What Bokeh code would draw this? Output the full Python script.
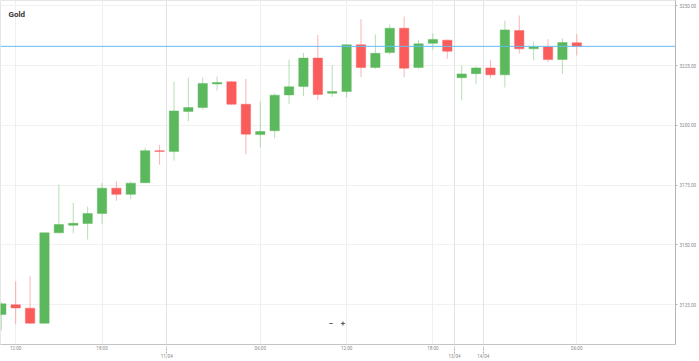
from bokeh.plotting import figure
from bokeh.models import (Range1d, FixedTicker, LinearAxis, Grid, Label,
                          ColumnDataSource, PrintfTickFormatter, Span)
from bokeh.embed import file_html
from bokeh.resources import INLINE

title = "Gold"

# candle timestamps (date, hour)
dates = (["10/04"] * 12 + ["11/04"] * 20 + ["13/04"] * 2 + ["14/04"] * 7)
hours = ["11:00", "12:00", "13:00", "14:00", "15:00", "16:00", "17:00", "18:00",
         "19:00", "20:00", "21:00", "23:00",
         "00:00", "01:00", "02:00", "03:00", "04:00", "05:00", "06:00", "07:00",
         "08:00", "09:00", "10:00", "11:00", "12:00", "13:00", "14:00", "15:00",
         "16:00", "17:00", "18:00", "19:00",
         "22:00", "23:00",
         "00:00", "01:00", "02:00", "03:00", "04:00", "05:00", "06:00"]

opens = [3120.8, 3124.9, 3123.5, 3117.2, 3155.0, 3158.2, 3158.9, 3163.1, 3173.7, 3171.1,
         3176.0, 3189.4, 3189.0, 3205.8, 3207.4, 3217.3, 3218.2, 3208.8, 3196.1, 3197.7,
         3212.7, 3216.2, 3228.1, 3213.4, 3214.1, 3233.7, 3224.2, 3230.4, 3240.6, 3224.2,
         3234.3, 3235.6, 3219.9, 3221.6, 3224.0, 3221.1, 3239.6, 3232.0, 3232.7, 3227.5,
         3234.5]
highs = [3126.0, 3134.7, 3137.0, 3155.2, 3175.2, 3167.6, 3166.0, 3175.9, 3176.6, 3176.5,
         3190.6, 3191.8, 3218.3, 3219.9, 3220.0, 3220.4, 3218.4, 3219.4, 3209.9, 3213.3,
         3227.5, 3230.3, 3237.8, 3225.0, 3233.8, 3244.4, 3238.0, 3242.2, 3245.5, 3235.7,
         3238.4, 3235.9, 3224.9, 3224.7, 3227.4, 3243.8, 3245.9, 3235.0, 3236.0, 3236.3,
         3238.1]
lows = [3114.1, 3116.9, 3116.9, 3117.0, 3155.0, 3154.8, 3152.2, 3158.8, 3168.4, 3169.1,
        3175.8, 3183.5, 3185.2, 3201.6, 3206.5, 3214.5, 3208.6, 3187.8, 3190.7, 3194.6,
        3208.8, 3212.2, 3210.5, 3211.9, 3211.6, 3220.1, 3223.6, 3229.7, 3220.1, 3223.6,
        3231.6, 3227.8, 3210.4, 3217.2, 3219.7, 3215.8, 3229.9, 3227.1, 3226.4, 3221.5,
        3229.2]
closes = [3125.3, 3123.6, 3117.2, 3155.0, 3158.5, 3159.0, 3163.1, 3173.7, 3171.1, 3175.8,
          3189.4, 3189.0, 3206.0, 3207.4, 3217.5, 3217.9, 3208.8, 3196.3, 3197.4, 3212.6,
          3216.1, 3228.1, 3212.9, 3214.1, 3233.7, 3224.2, 3230.1, 3240.6, 3223.9, 3234.1,
          3235.9, 3231.0, 3221.5, 3224.0, 3221.1, 3239.9, 3232.0, 3232.7, 3227.5, 3234.6,
          3233.02]

last_price = 3233.02
y_ticks = [3125, 3150, 3175, 3200, 3225, 3250]
time_label_hours = ["06:00", "12:00", "18:00"]

GREEN = "#5cb85c"
RED = "#fa5c5c"
FONT = "Roboto"

idx = list(range(len(opens)))
colors = [GREEN if c >= o else RED for o, c in zip(opens, closes)]
src = ColumnDataSource(dict(
    x=idx, high=highs, low=lows,
    top=[max(o, c) for o, c in zip(opens, closes)],
    bottom=[min(o, c) for o, c in zip(opens, closes)],
    color=colors))

# tick positions derived from timestamps
time_ticks, time_labels, date_ticks, date_labels = [], [], [], []
prev = dates[0]
for i, (d, h) in enumerate(zip(dates, hours)):
    if d != prev:
        date_ticks.append(i - 0.5)
        date_labels.append(d)
        prev = d
    if h in time_label_hours:
        time_ticks.append(i)
        time_labels.append(h)

p = figure(width=699, height=361,
           x_range=Range1d(-0.056, 46.86), y_range=Range1d(3108.3, 3252.2),
           y_axis_location="right", output_backend="svg", toolbar_location=None,
           min_border_left=0, min_border_top=0, min_border_right=23, min_border_bottom=17)
p.background_fill_color = "white"
p.border_fill_color = "white"
p.outline_line_color = "#e6e6e6"

# right axis
ya = p.yaxis[0]
ya.ticker = FixedTicker(ticks=y_ticks)
ya.formatter = PrintfTickFormatter(format="%.2f")
ya.major_label_text_font_size = "4.6px"
ya.major_label_text_color = "#8a8a8a"
ya.major_label_text_font = FONT
ya.major_tick_out = 2
ya.major_tick_in = 0
ya.minor_tick_out = 0
ya.minor_tick_in = 0
ya.major_label_standoff = 2
ya.axis_line_color = "#b5b5b5"
ya.major_tick_line_color = "#b5b5b5"

# bottom time axis
xa = p.xaxis[0]
xa.ticker = FixedTicker(ticks=time_ticks)
xa.major_label_overrides = {t: l for t, l in zip(time_ticks, time_labels)}
xa.major_label_text_font_size = "4.6px"
xa.major_label_text_color = "#8a8a8a"
xa.major_label_text_font = FONT
xa.major_tick_out = 0
xa.major_tick_in = 0
xa.minor_tick_out = 0
xa.minor_tick_in = 0
xa.major_label_standoff = 1
xa.axis_line_color = "#c4c4c4"

# bottom date axis
da = LinearAxis(ticker=FixedTicker(ticks=date_ticks),
                major_label_overrides={t: l for t, l in zip(date_ticks, date_labels)})
da.major_label_text_font_size = "4.6px"
da.major_label_text_color = "#8a8a8a"
da.major_label_text_font = FONT
da.major_tick_out = 0
da.major_tick_in = 7
da.major_tick_line_dash = "2 1"
da.major_tick_line_color = "#b0b0b0"
da.minor_tick_out = 0
da.minor_tick_in = 0
da.major_label_standoff = 0
da.axis_line_color = None
p.add_layout(da, "below")

# grids
p.xgrid.visible = False
p.ygrid.grid_line_color = "#f1f1f1"
p.add_layout(Grid(dimension=0, ticker=FixedTicker(ticks=time_ticks),
                  grid_line_color="#efefef"))
p.add_layout(Grid(dimension=0, ticker=FixedTicker(ticks=date_ticks),
                  grid_line_color="#e3e3e3"))

# candles
p.segment(x0="x", y0="low", x1="x", y1="high", source=src,
          line_color="color", line_alpha=0.45, line_width=1)
p.vbar(x="x", width=0.65, top="top", bottom="bottom", source=src,
       fill_color="color", line_color="color", line_alpha=0.45, line_width=1)

# current price line and label
p.add_layout(Span(location=last_price, dimension="width",
                  line_color="#62bdf6", line_width=1))
p.add_layout(Label(x=677, x_units="screen", y=last_price, y_units="data",
                   text=f"{last_price:.2f}", text_font_size="4.6px",
                   text_font=FONT, text_color="white", text_baseline="middle",
                   background_fill_color="#45aef2", background_fill_alpha=1.0))

# title
p.add_layout(Label(x=8, x_units="screen", y=3246.3, y_units="data",
                   text=title, text_font_size="8px", text_font_style="bold",
                   text_font=FONT, text_color="#333333", text_baseline="middle"))

# zoom control
for zx, zt in [(22.92, "\u2212"), (23.75, "+")]:
    p.add_layout(Label(x=zx, y=3117.05, text=zt, text_font_size="8px",
                       text_font_style="bold", text_font=FONT, text_color="#555555",
                       text_align="center", text_baseline="middle"))

open("out.html", "w").write(file_html(p, INLINE))
